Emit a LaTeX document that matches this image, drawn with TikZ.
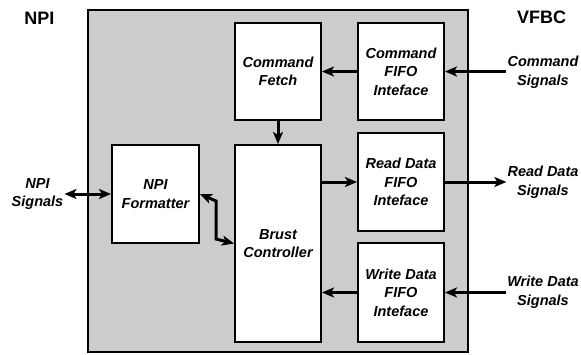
\documentclass[tikz,border=0pt]{standalone}
\usepackage{fontspec}
\setmainfont{Liberation Sans}
\usetikzlibrary{arrows.meta}

\begin{document}
\begin{tikzpicture}[x=1pt, y=-1pt,
        blk/.style={draw, line width=2pt, fill=white, align=center, minimum width=86pt,
            font=\fontsize{14.5}{18.5}\selectfont\bfseries\itshape},
        sig/.style={align=center, inner sep=1pt, font=\fontsize{14.5}{18.5}\selectfont\bfseries\itshape},
        arr/.style={line width=3pt, -{Stealth[length=12pt, width=10pt, inset=3pt]}},
        darr/.style={line width=3pt, {Stealth[length=12pt, width=10pt, inset=3pt]}-{Stealth[length=12pt, width=10pt, inset=3pt]}}]
        \useasboundingbox (0,0) rectangle (581,354);

        \node[draw, line width=2pt, fill=black!20, minimum width=380pt, minimum height=342pt] (core) at (278,181) {};
        \node[font=\fontsize{18}{20}\selectfont\bfseries] (npi) at (39.5,18) {NPI};
        \node[font=\fontsize{18}{20}\selectfont\bfseries] (vfbc) at (541.5,17) {VFBC};

        \node[blk, minimum height=97pt] (cf) at (278,71.5) {Command\\Fetch};
        \node[blk, minimum height=97pt] (cfifo) at (401,71.5) {Command\\FIFO\\Inteface};
        \node[blk, minimum height=98pt] (rfifo) at (401,182) {Read Data\\FIFO\\Inteface};
        \node[blk, minimum height=99pt] (wfifo) at (401,292.5) {Write Data\\FIFO\\Inteface};
        \node[blk, minimum height=197pt] (brust) at (278,243.5) {Brust\\Controller};
        \node[blk, minimum width=87pt, minimum height=98pt] (npif) at (155.5,194) {NPI\\Formatter};

        \node[sig] (npisig) at (37.5,194) {NPI\\Signals};
        \node[sig] (csig) at (543,72) {Command\\Signals};
        \node[sig] (rsig) at (543,182) {Read Data\\Signals};
        \node[sig] (wsig) at (543,292) {Write Data\\Signals};

        \coordinate (k1) at (216,201);
        \coordinate (k2) at (216,239);

        \draw[arr] (csig.west |- cfifo.east) -- (cfifo.east);
        \draw[arr] (cfifo.west) -- (cf.east);
        \draw[arr] (cf.south) -- (brust.north);
        \draw[arr] (rfifo.west -| brust.east) -- (rfifo.west);
        \draw[arr] (rfifo.east) -- (rsig.west |- rfifo.east);
        \draw[arr] (wsig.west |- wfifo.east) -- (wfifo.east);
        \draw[arr] (wfifo.west) -- (wfifo.west -| brust.east);
        \draw[darr] (npisig.east) -- (npif.west);
        \draw[darr] (npif.east) -- (k1) -- (k2) -- (brust.west);
    \end{tikzpicture}
\end{document}
